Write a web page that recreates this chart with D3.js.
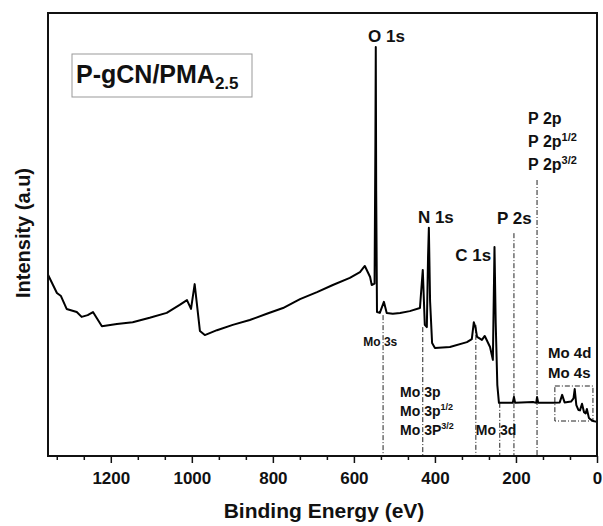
<!DOCTYPE html>
<html>
<head>
<meta charset="utf-8">
<script src="https://cdn.jsdelivr.net/npm/d3@7"></script>
<style>
  body { margin: 0; background: #fff; }
  text { font-family: "Liberation Sans", Arial, sans-serif; font-weight: bold; fill: #111; }
</style>
</head>
<body>
<script>
var width = 603;
var height = 526;

// survey spectrum (binding energy eV, intensity a.u.)
var energy = [1355,1333,1323,1309,1284,1272,1257,1244,1222,1185,1146,1104,1062,1030,1012,1002,993,980,968,938,899,857,815,775,733,691,652,610,585,573,560,556,549,547,546,545,543,536,526,519,504,486,462,437,435,430,425,420,417,415,412,407,400,363,321,309,304,300,296,284,277,264,257,253,250,246,242,222,208,205,202,158,150,148,145,109,92,86,80,64,58,55,51,46,42,37,32,28,25,20,15,10,0];
var intensity = [40.9,36.8,36.1,33.2,32.5,31.4,31.8,32.5,29.3,29.8,30.2,31.2,32.3,34.1,35.2,33.2,38.8,28.2,27.3,28.4,29.6,30.7,32.1,33.4,35.4,37.0,38.6,40.2,41.5,42.9,40.4,38.6,38.9,70,92.3,60,32.5,32.3,34.8,32.3,32.1,32.3,32.7,33.4,35.9,42.0,29.6,29.1,45,51.5,35,25.5,24.4,24.6,25.7,26.4,30.2,29,26.9,26.2,27.1,24.6,21.7,47.2,30,16,12.0,12.0,12,13.3,12,12.2,12,13.3,12,12.0,12.1,13.8,12.1,12.3,13,15.1,11.5,10.4,10.3,11.8,9.9,9.6,10.6,8.6,8.2,7.9,7.7];

var majorTicks = [1200, 1000, 800, 600, 400, 200, 0];

// dash-dot marker lines: position (eV) and top of the line (intensity)
var markerEnergy = [528, 430, 299, 240, 205, 148];
var markerTop = [31.8, 29.1, 29.6, 12.0, 50.3, 62.3];

var margin = {left: 48, right: 6, top: 13, bottom: 70};

var svg = d3.select("body")
            .append("svg")
            .attr("width", width)
            .attr("height", height);

var x = d3.scaleLinear()
          .domain([1355, 0])
          .range([margin.left, width - margin.right]);

var y = d3.scaleLinear()
          .domain([0, 100])
          .range([height - margin.bottom, margin.top]);

var spectrum = energy.map(function(e, i){ return [e, intensity[i]]; });

// marker lines
svg.append("g")
   .selectAll("line")
   .data(markerEnergy)
   .enter()
   .append("line")
   .attr("x1", function(d){ return x(d); })
   .attr("x2", function(d){ return x(d); })
   .attr("y1", function(d, i){ return y(markerTop[i]); })
   .attr("y2", y(0))
   .attr("stroke", "#222")
   .attr("stroke-width", 1)
   .attr("stroke-dasharray", "5,2,1,2");

// Mo 4d / 4s box
svg.append("rect")
   .attr("x", x(104))
   .attr("y", y(15.8))
   .attr("width", x(10) - x(104))
   .attr("height", y(7.9) - y(15.8))
   .attr("fill", "none")
   .attr("stroke", "#222")
   .attr("stroke-width", 1)
   .attr("stroke-dasharray", "5,2,1,2");

// spectrum line
var line = d3.line()
             .x(function(d){ return x(d[0]); })
             .y(function(d){ return y(d[1]); });

svg.append("path")
   .datum(spectrum)
   .attr("fill", "none")
   .attr("stroke", "#000")
   .attr("stroke-width", 2)
   .attr("stroke-linejoin", "round")
   .attr("d", line);

// frame
svg.append("rect")
   .attr("x", x(1355))
   .attr("y", y(100))
   .attr("width", x(0) - x(1355))
   .attr("height", y(0) - y(100))
   .attr("fill", "none")
   .attr("stroke", "#111")
   .attr("stroke-width", 2);

// x axis, major + minor ticks
var minorTicks = d3.range(0, 1355, 200 / 3).filter(function(d){
  return Math.abs(d % 200) > 1 && Math.abs(d % 200 - 200) > 1;
});

var xMinor = svg.append("g")
   .attr("transform", "translate(0," + y(0) + ")")
   .call(d3.axisBottom(x).tickValues(minorTicks).tickSize(4).tickFormat(""));
xMinor.select(".domain").remove();

var xAxis = svg.append("g")
   .attr("transform", "translate(0," + y(0) + ")")
   .call(d3.axisBottom(x).tickValues(majorTicks).tickSize(7).tickPadding(9).tickFormat(d3.format("d")));
xAxis.select(".domain").remove();
xAxis.selectAll("line").attr("stroke", "#111").attr("stroke-width", 1.5);
xMinor.selectAll("line").attr("stroke", "#111").attr("stroke-width", 1.5);
xAxis.selectAll("text")
     .style("font-family", "'Liberation Sans', Arial, sans-serif")
     .style("font-weight", "bold")
     .style("font-size", "17px")
     .attr("fill", "#111");

// axis titles
svg.append("text")
   .attr("x", 324)
   .attr("y", 518)
   .attr("text-anchor", "middle")
   .style("font-size", "21px")
   .text("Binding Energy (eV)");

svg.append("text")
   .attr("transform", "translate(30,233) rotate(-90)")
   .attr("text-anchor", "middle")
   .style("font-size", "20px")
   .text("Intensity (a.u)");

// sample name box
svg.append("rect")
   .attr("x", 72)
   .attr("y", 54)
   .attr("width", 180)
   .attr("height", 43)
   .attr("fill", "#fff")
   .attr("stroke", "#999")
   .attr("stroke-width", 1);

var title = svg.append("text")
   .attr("x", 76)
   .attr("y", 83)
   .style("font-size", "25px");
title.append("tspan").text("P-gCN/PMA");
title.append("tspan").attr("dy", 6).style("font-size", "17px").text("2.5");

// peak labels, anchored in data units
function label(e, v, size, parts) {
  var t = svg.append("text")
     .attr("x", x(e))
     .attr("y", y(v))
     .style("font-size", size + "px");
  parts.forEach(function(p){
    var s = t.append("tspan").text(p.t);
    if (p.sup) s.attr("dy", -6).style("font-size", (size - 5) + "px");
  });
}

label(565, 93.5, 17, [{t: "O 1s"}]);
label(442, 52.6, 17, [{t: "N 1s"}]);
label(350, 44.0, 17, [{t: "C 1s"}]);
label(247, 52.4, 17, [{t: "P 2s"}]);
label(170, 74.9, 16, [{t: "P 2p"}]);
label(170, 69.8, 16, [{t: "P 2p"}, {t: "1/2", sup: true}]);
label(170, 64.6, 16, [{t: "P 2p"}, {t: "3/2", sup: true}]);
label(577, 24.8, 12, [{t: "Mo 3s"}]);
label(486, 13.3, 14, [{t: "Mo 3p"}]);
label(486, 9.0, 14, [{t: "Mo 3p"}, {t: "1/2", sup: true}]);
label(486, 4.7, 14, [{t: "Mo 3P"}, {t: "3/2", sup: true}]);
label(299, 4.7, 14, [{t: "Mo 3d"}]);
label(121, 22.1, 15, [{t: "Mo 4d"}]);
label(121, 17.6, 15, [{t: "Mo 4s"}]);
</script>
</body>
</html>
